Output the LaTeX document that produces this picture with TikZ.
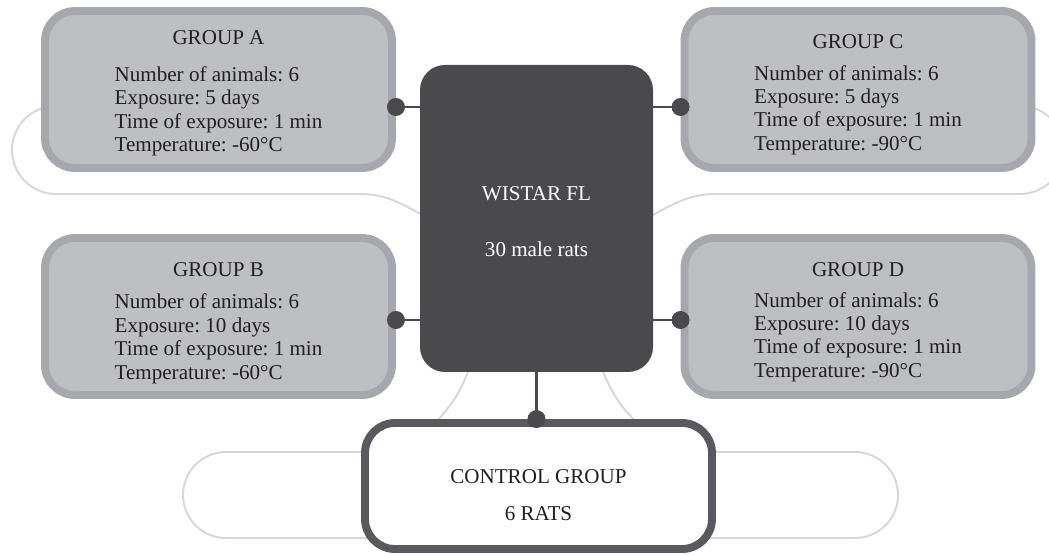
\documentclass[tikz,border=0pt]{standalone}
\usepackage{fontspec}
\setmainfont{Liberation Serif}
\usepackage{tikz}
\usetikzlibrary{calc,positioning}
\definecolor{wsgray}{RGB}{190,191,195}
\definecolor{wsedge}{RGB}{166,168,174}
\definecolor{wsdark}{RGB}{74,74,77}
\definecolor{wsrim}{RGB}{90,90,94}
\definecolor{wsfaint}{RGB}{215,215,218}
\definecolor{wsink}{RGB}{35,31,32}
\frenchspacing

\begin{document}
\begin{tikzpicture}[
      grp/.style={rounded corners=0.6cm, minimum width=6.94cm, minimum height=3.14cm, align=center, draw=wsedge, fill=wsgray, line width=4.5pt, text=wsink, font=\fontsize{12}{13.3}\selectfont},
      hub/.style={rounded corners=0.5cm, minimum width=4.66cm, minimum height=6.14cm, align=center, fill=wsdark, text=white, font=\fontsize{12}{14}\selectfont},
      ctrlbox/.style={rounded corners=0.6cm, minimum width=6.94cm, minimum height=2.52cm, align=center, draw=wsrim, fill=white, line width=4.5pt, text=wsink, font=\fontsize{12}{14}\selectfont},
      linkline/.style={draw=wsdark, line width=1.7pt},
      knob/.style={fill=wsdark},
      deco/.style={draw=wsfaint, line width=1.1pt}
    ]
      \useasboundingbox (0,0) rectangle (20.98,11.08);

      % faint background loops
      \begin{scope}
        \clip (0,0) rectangle (20.98,11.08);
        \draw[deco] (8.60,6.70) to[out=153,in=0] (7.20,7.20) -- (1.12,7.20)
          arc[start angle=270, end angle=90, radius=0.88] -- (4,8.96);
        \draw[deco] (12.90,6.70) to[out=27,in=180] (14.32,7.20) -- (20.40,7.20)
          arc[start angle=-90, end angle=90, radius=0.88] -- (17.5,8.96);
        \draw[deco, rounded corners=0.86cm] (3.66,0.32) rectangle (17.96,2.04);
        \draw[deco] (9.40,3.75) to[bend left=12] (8.66,2.58);
        \draw[deco] (12.02,3.75) to[bend right=12] (12.78,2.58);
      \end{scope}

      \node[grp] (ga) at (4.37, 9.29) {
        \rule{0pt}{13.5pt}GROUP A\\[8pt]
        \begin{tabular}[t]{@{}l@{}}Number of animals: 6\\ Exposure: 5 days\\ Time of exposure: 1 min\\ Temperature: -60°C\end{tabular}
      };

      \node[grp] (gb) at (4.37, 4.75) {
        \rule{0pt}{17pt}GROUP B\\[5pt]
        \begin{tabular}[t]{@{}l@{}}Number of animals: 6\\ Exposure: 10 days\\ Time of exposure: 1 min\\ Temperature: -60°C\end{tabular}
      };

      \node[grp] (gc) at (17.16, 9.29) {
        \rule{0pt}{15pt}GROUP C\\[5pt]
        \begin{tabular}[t]{@{}l@{}}Number of animals: 6\\ Exposure: 5 days\\ Time of exposure: 1 min\\ Temperature: -90°C\end{tabular}
      };

      \node[grp] (gd) at (17.16, 4.75) {
        \rule{0pt}{16pt}GROUP D\\[4pt]
        \begin{tabular}[t]{@{}l@{}}Number of animals: 6\\ Exposure: 10 days\\ Time of exposure: 1 min\\ Temperature: -90°C\end{tabular}
      };

      \node[hub] (wistar) at (10.73, 6.71) {\rule{0pt}{11.5pt}WISTAR FL\\[18pt]30 male rats};

      \node[ctrlbox] (ctrl) at (10.77, 1.36) {\rule{0pt}{18pt}CONTROL GROUP\\[7pt]6 RATS};

      % connectors
      \coordinate (pa) at ($(ga.east)+(0,-0.35)$);
      \coordinate (pb) at ($(gb.east)+(0,-0.07)$);
      \coordinate (pc) at ($(gc.west)+(0,-0.35)$);
      \coordinate (pd) at ($(gd.west)+(0,-0.07)$);
      \coordinate (pe) at (wistar.south |- ctrl.north);
      \draw[linkline] (pa) -- (pa -| wistar.west);
      \draw[linkline] (pb) -- (pb -| wistar.west);
      \draw[linkline] (pc) -- (pc -| wistar.east);
      \draw[linkline] (pd) -- (pd -| wistar.east);
      \draw[linkline] (wistar.south) -- (pe);
      \foreach \p in {pa,pb,pc,pd,pe}
        \fill[knob] (\p) circle (0.18);
    \end{tikzpicture}
\end{document}
